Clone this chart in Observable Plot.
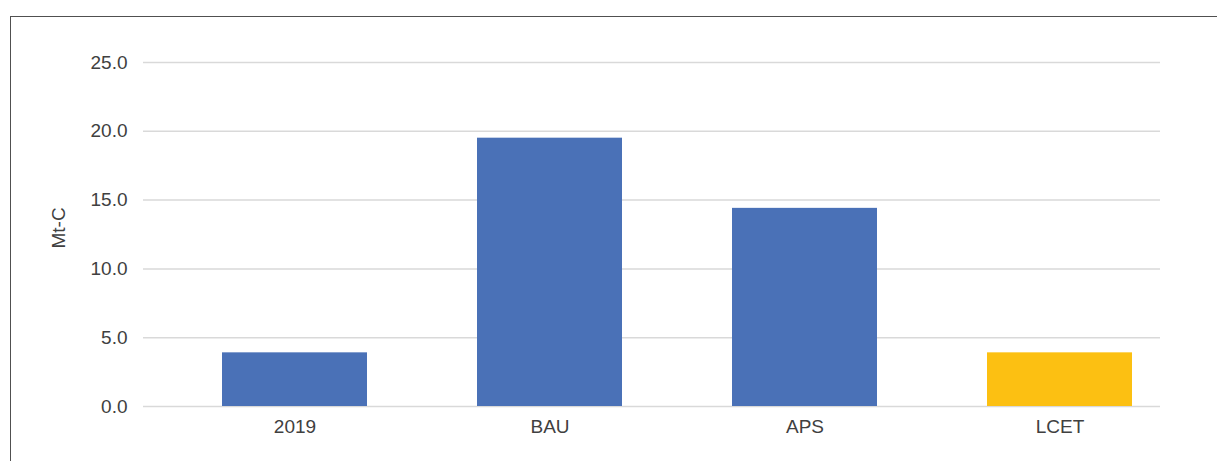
<!DOCTYPE html>
<html>
<head>
<meta charset="utf-8">
<script src="https://cdn.jsdelivr.net/npm/d3@7"></script>
<script src="https://cdn.jsdelivr.net/npm/@observablehq/plot@0.6"></script>
<style>
  html, body { margin: 0; padding: 0; background: #fff; overflow: hidden; }
  #wrap { position: relative; width: 1217px; height: 461px; }
  #frame { position: absolute; left: 10px; top: 16px; width: 1400px; height: 600px;
           border-left: 1.5px solid #505050; border-top: 1.5px solid #505050; box-sizing: border-box; }
  #chart { position: absolute; left: 0; top: 0; }
</style>
</head>
<body>
<div id="wrap"><div id="frame"></div><div id="chart"></div></div>
<script>
const categories = ["2019", "BAU", "APS", "LCET"];
const values = [3.9, 19.5, 14.4, 3.9];
const barColors = ["#4A71B7", "#4A71B7", "#4A71B7", "#FCC012"];
const yTicks = [0, 5, 10, 15, 20, 25];
const yLabel = "Mt-C";

const data = categories.map((c, i) => ({cat: c, value: values[i], color: barColors[i]}));

const fontFam = "'Liberation Sans', Arial, sans-serif";

const chart = Plot.plot({
  width: 1217,
  height: 461,
  marginTop: 62,
  marginBottom: 55,
  marginLeft: 143,
  marginRight: 57,
  style: {fontFamily: fontFam, fontSize: "19px", color: "#404040", background: "transparent"},
  x: {domain: categories, range: [166.4, 1188.8], paddingInner: 0.43, paddingOuter: 0.215, align: 0.5, label: null},
  y: {domain: [0, 25], label: null},
  marks: [
    Plot.ruleY(yTicks, {stroke: "#D9D9D9", strokeWidth: 1.5}),
    Plot.barY(data, {x: "cat", y: "value", fill: "color"}),
    Plot.axisY({ticks: yTicks, tickFormat: d3.format(".1f"), tickSize: 0, tickPadding: 16, label: null, fill: "#404040", fontSize: 19}),
    Plot.axisX({tickSize: 0, tickPadding: 13, label: null, fill: "#404040", fontSize: 19}),
    Plot.text([yLabel], {frameAnchor: "left", dx: -85, dy: 14, rotate: -90, fill: "#404040", fontSize: 19})
  ]
});
document.getElementById("chart").appendChild(chart);
</script>
</body>
</html>
